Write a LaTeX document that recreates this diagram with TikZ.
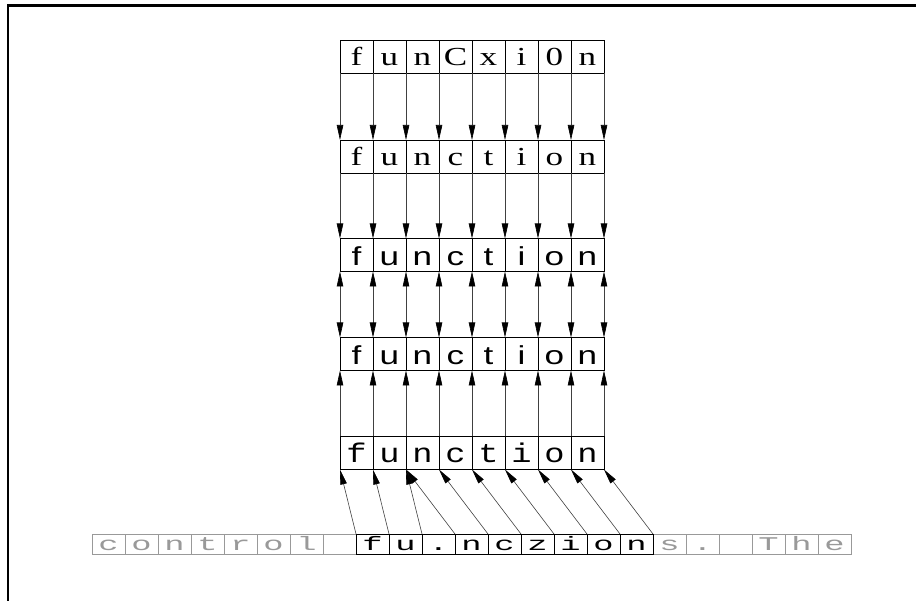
\documentclass[tikz,border=0pt]{standalone}
\usepackage{fontspec}
\usepackage{graphicx}
\setmainfont{Liberation Serif}
\setsansfont{Liberation Sans}
\setmonofont{Liberation Mono}
\usetikzlibrary{arrows.meta}
\definecolor{cellgray}{gray}{0.6}
\newcommand\stretchtxt[3]{\scalebox{#1}[#2]{#3}}
\begin{document}
\begin{tikzpicture}[x=1pt,y=-1pt,
 cell/.style={draw, minimum width=33pt, minimum height=33pt, inner sep=0pt, outer sep=0pt, line width=0.8pt, text depth=0pt},
 serifcell/.style={cell, font=\rmfamily\fontsize{26}{30}\selectfont, text height=18pt},
 sanscell/.style={cell, font=\sffamily\fontsize{26}{30}\selectfont, text height=21pt},
 monocell/.style={cell, font=\ttfamily\fontsize{27}{30}\selectfont, text height=20pt},
 lowcell/.style={cell, minimum height=20pt, font=\ttfamily\fontsize{27}{30}\selectfont, text height=13pt},
 graycell/.style={lowcell, draw=cellgray, text=cellgray},
 link/.style={line width=0.6pt, black!75, -{Triangle[length=15pt,width=6.5pt,color=black]}},
 duallink/.style={line width=0.6pt, black!75, {Triangle[length=15pt,width=6.5pt,color=black]}-{Triangle[length=15pt,width=6.5pt,color=black]}},
 frameline/.style={line width=2.6pt, black}
]
\useasboundingbox (0,0) rectangle (916,601);
\coordinate (fa) at (8,601);
\coordinate (fb) at (8,5.5);
\coordinate (fc) at (916,5.5);
\draw[frameline] (fa) -- (fb) -- (fc);

\foreach \ch [count=\i from 0] in {f,u,n,C,x,i,0,n}
  \node[serifcell] (a\i) at (356.5+33*\i, 56.5) {\stretchtxt{1.35}{1}{\ch}};
\foreach \ch [count=\i from 0] in {f,u,n,c,t,i,o,n}
  \node[serifcell] (b\i) at (356.5+33*\i, 156.5) {\stretchtxt{1.35}{1}{\ch}};
\foreach \ch [count=\i from 0] in {f,u,n,c,t,i,o,n}
  \node[sanscell] (c\i) at (356.5+33*\i, 255) {\stretchtxt{1.35}{1}{\ch}};
\foreach \ch [count=\i from 0] in {f,u,n,c,t,i,o,n}
  \node[sanscell] (d\i) at (356.5+33*\i, 354) {\stretchtxt{1.35}{1}{\ch}};
\foreach \ch [count=\i from 0] in {f,u,n,c,t,i,o,n}
  \node[monocell] (e\i) at (356.5+33*\i, 453) {\stretchtxt{1.25}{1}{\ch}};

\foreach \ch [count=\i from 0] in {c,o,n,t,r,o,l,{}}
  \node[graycell] (l\i) at (108.5+33*\i, 544) {\stretchtxt{1.25}{0.72}{\ch}};
\foreach \ch [count=\i from 0] in {s,.,{},T,h,e}
  \node[graycell] (m\i) at (669.5+33*\i, 544) {\stretchtxt{1.25}{0.72}{\ch}};
\foreach \ch [count=\i from 0] in {f,u,.,n,c,z,i,o,n}
  \node[lowcell] (k\i) at (372.5+33*\i, 544) {\stretchtxt{1.25}{0.72}{\ch}};

\foreach \i in {0,...,7} {
  \draw[link] (a\i.south west) -- (b\i.north west);
  \draw[link] (b\i.south west) -- (c\i.north west);
  \draw[duallink] (c\i.south west) -- (d\i.north west);
  \draw[link] (e\i.north west) -- (d\i.south west);
}
\draw[link] (a7.south east) -- (b7.north east);
\draw[link] (b7.south east) -- (c7.north east);
\draw[duallink] (c7.south east) -- (d7.north east);
\draw[link] (e7.north east) -- (d7.south east);

\foreach \s/\t in {0/0,1/1,2/2,3/2,4/3,5/4,6/5,7/6,8/7}
  \draw[link] (k\s.north west) -- (e\t.south west);
\draw[link] (k8.north east) -- (e7.south east);
\end{tikzpicture}
\end{document}
